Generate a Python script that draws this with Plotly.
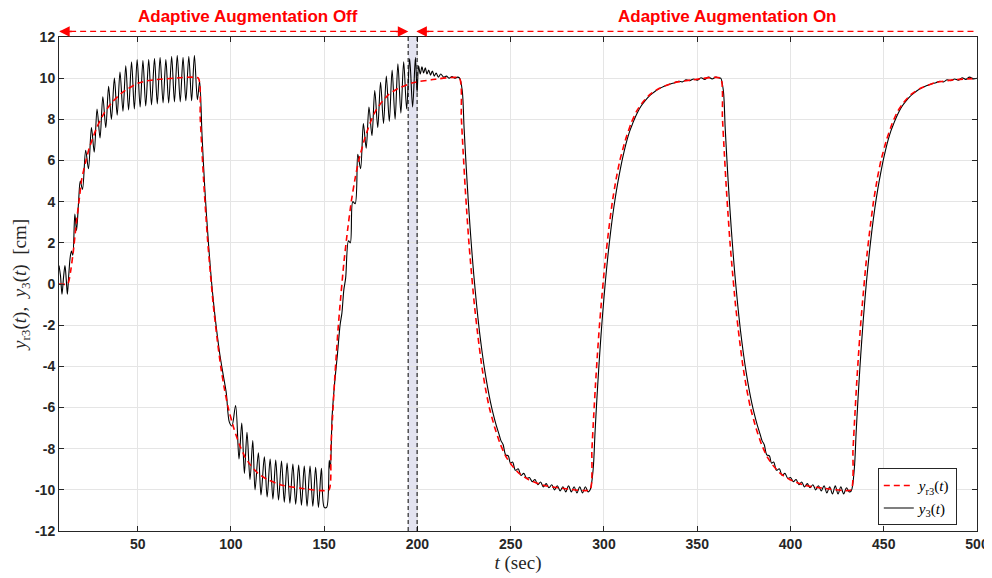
import plotly.graph_objects as go

# ---------------- data ----------------
# reference signal y_r3(t), per segment
ref_t_seg0 = [7.8, 12.5, 14, 15.5, 17, 18.5, 20, 22, 24, 26, 28, 32, 36, 41, 45, 50, 55, 60, 70, 82.5]
ref_y_seg0 = [0, 0, 0.6, 1.6, 2.9, 4.0, 5.1, 5.9, 6.6, 7.1, 7.6, 8.3, 8.8, 9.25, 9.5, 9.75, 9.87, 9.93, 10, 10]

ref_t_seg1 = [83.5, 84.5, 85.5, 86.5, 87.5, 88.5, 90.5, 92.5, 94.5, 96.5, 98.5, 101.5, 104.5, 107.5, 110.5, 114.5, 119.5, 127.5, 137.5, 152.5]
ref_y_seg1 = [8.1, 6.4, 4.8, 3.4, 2.1, 1.0, -1.0, -2.6, -4.0, -5.1, -6.0, -7.0, -7.8, -8.4, -8.8, -9.2, -9.5, -9.78, -9.92, -10]

ref_t_seg2 = [153.5, 154.5, 155.5, 156.5, 157.5, 158.5, 160.5, 162.5, 164.5, 166.5, 168.5, 171.5, 174.5, 177.5, 180.5, 184.5, 189.5, 197.5, 207.5, 222.5]
ref_y_seg2 = [-8.1, -6.4, -4.8, -3.4, -2.1, -1.0, 1.0, 2.6, 4.0, 5.1, 6.0, 7.0, 7.8, 8.4, 8.8, 9.2, 9.5, 9.78, 9.92, 10]

ref_t_seg3 = [223.5, 224.5, 225.5, 226.5, 227.5, 228.5, 230.5, 232.5, 234.5, 236.5, 238.5, 241.5, 244.5, 247.5, 250.5, 254.5, 259.5, 267.5, 277.5, 292.5]
ref_y_seg3 = [8.1, 6.4, 4.8, 3.4, 2.1, 1.0, -1.0, -2.6, -4.0, -5.1, -6.0, -7.0, -7.8, -8.4, -8.8, -9.2, -9.5, -9.78, -9.92, -10]

ref_t_seg4 = [293.5, 294.5, 295.5, 296.5, 297.5, 298.5, 300.5, 302.5, 304.5, 306.5, 308.5, 311.5, 314.5, 317.5, 320.5, 324.5, 329.5, 337.5, 347.5, 362.5]
ref_y_seg4 = [-8.1, -6.4, -4.8, -3.4, -2.1, -1.0, 1.0, 2.6, 4.0, 5.1, 6.0, 7.0, 7.8, 8.4, 8.8, 9.2, 9.5, 9.78, 9.92, 10]

ref_t_seg5 = [363.5, 364.5, 365.5, 366.5, 367.5, 368.5, 370.5, 372.5, 374.5, 376.5, 378.5, 381.5, 384.5, 387.5, 390.5, 394.5, 399.5, 407.5, 417.5, 432.5]
ref_y_seg5 = [8.1, 6.4, 4.8, 3.4, 2.1, 1.0, -1.0, -2.6, -4.0, -5.1, -6.0, -7.0, -7.8, -8.4, -8.8, -9.2, -9.5, -9.78, -9.92, -10]

ref_t_seg6 = [433.5, 434.5, 435.5, 436.5, 437.5, 438.5, 440.5, 442.5, 444.5, 446.5, 448.5, 451.5, 454.5, 457.5, 460.5, 464.5, 469.5, 477.5, 487.5, 500]
ref_y_seg6 = [-8.1, -6.4, -4.8, -3.4, -2.1, -1.0, 1.0, 2.6, 4.0, 5.1, 6.0, 7.0, 7.8, 8.4, 8.8, 9.2, 9.5, 9.78, 9.92, 9.99]

# measured output y_3(t), per segment (peaks / troughs / samples)
out_t_seg0 = [7.8, 8.6, 9.4, 10.2, 11.0, 11.7, 12.3, 13.0, 13.8, 14.5, 15.2, 16.3, 17.2, 18.3, 19.2, 20.4,
              22.1, 23.6, 25.2, 26.7, 28.2, 29.8, 31.3, 32.9, 34.4, 35.9, 37.5, 39.0, 40.5, 42.1, 43.6, 45.1,
              46.7, 48.2, 49.7, 51.3, 52.8, 54.3, 55.9, 57.4, 59.0, 60.5, 62.0, 63.6, 65.1, 66.6, 68.2, 69.7,
              71.2, 72.8, 74.3, 75.8, 77.4, 78.9, 80.4, 82.0, 83.2]
out_y_seg0 = [0.9, 0.4, -0.5, 0.3, 0.9, 0.2, -0.5, 0.4, 1.3, 1.6, 1.4, 3.4, 2.6, 4.0, 5.0, 4.6,
              6.5, 5.6, 7.6, 6.4, 8.5, 7.1, 9.1, 7.6, 9.6, 8.0, 10.0, 8.2, 10.3, 8.4, 10.6, 8.45,
              10.8, 8.5, 10.9, 8.6, 10.85, 8.65, 10.9, 8.7, 10.95, 8.75, 11.0, 8.8, 10.9, 8.8, 11.05, 8.85,
              11.1, 8.85, 11.0, 8.9, 11.05, 8.9, 11.1, 8.95, 9.85]

out_t_seg1 = [84.5, 86.0, 88.0, 90.0, 92.0, 94.0, 96.0, 97.5, 99.1, 100.5, 102.5, 104.3, 105.8, 107.2, 108.6,
              110.2, 111.7, 112.9, 114.7, 116.1, 117.9, 119.4, 121.0, 122.5, 124.0, 125.5, 127.1, 128.6,
              130.1, 131.6, 133.2, 134.7, 136.3, 137.8, 139.3, 140.8, 142.4, 143.9, 145.4, 146.9, 148.5,
              150.0, 151.3, 152.7]
out_y_seg1 = [7.2, 4.6, 1.9, -0.3, -2.0, -3.4, -4.5, -5.3, -6.7, -6.9, -5.9, -8.5, -6.75, -9.2, -7.2,
              -9.5, -7.6, -10.0, -8.2, -10.25, -8.4, -10.35, -8.5, -10.45, -8.55, -10.5, -8.6, -10.6,
              -8.7, -10.65, -8.75, -10.7, -8.8, -10.75, -8.85, -10.8, -8.85, -10.8, -8.9, -10.85, -8.95,
              -10.85, -10.85, -8.56]

out_t_seg2 = [153.3, 154.2, 155.5, 157.0, 158.5, 159.5, 160.5, 161.5, 163.0, 164.0, 165.3, 166.6, 168.0,
              169.5, 171.0, 172.5, 174.0, 175.6, 177.1, 178.7, 180.2, 181.8, 183.3, 184.9, 186.4, 188.0,
              189.5, 191.1, 192.6, 194.2, 195.8, 197.4, 198.9, 199.8, 200.6, 201.5, 202.4, 203.3, 204.2,
              205.1, 206.0, 207.0, 208.0, 209.0, 210.0, 211.2, 212.5, 214.0, 215.5, 217.0, 218.5, 220.0,
              221.5, 222.6]
out_y_seg2 = [-9.0, -6.5, -4.9, -3.5, -2.0, -1.4, -0.3, 0.3, 2.1, 2.0, 4.0, 3.9, 6.3,
              5.6, 7.8, 6.6, 8.6, 7.2, 9.4, 7.6, 9.8, 7.8, 10.1, 7.9, 10.4, 8.0,
              10.7, 8.3, 10.8, 8.5, 10.95, 8.6, 11.0, 9.3, 10.6, 10.2, 10.55, 10.25, 10.5,
              10.2, 10.4, 10.15, 10.35, 10.1, 10.25, 10.05, 10.2, 10.05, 10.1, 10.0, 10.08, 10.0,
              10.05, 10.0]

out_t_seg3 = [224.0, 225.0, 226.2, 227.2, 228.2, 229.2, 230.2, 231.7, 233.2, 234.7, 236.2, 237.7, 239.2,
              240.7, 242.2, 243.7, 244.8, 245.9, 247.3, 248.7, 249.8, 251.0, 252.5, 254.0, 255.5, 257.0,
              258.6, 260.0, 261.5, 263.0, 264.5, 266.0, 267.5, 269.0, 270.5, 272.0, 273.5, 275.0, 276.5,
              278.0, 279.5, 281.0, 282.5, 284.0, 285.5, 287.0, 288.5, 290.0, 291.5, 292.6]
out_y_seg3 = [9.4, 7.56, 5.58, 4.09, 2.75, 1.54, 0.44, -1.01, -2.27, -3.34, -4.27, -5.07, -5.76,
              -6.35, -6.86, -7.29, -7.62, -7.8, -8.3, -8.35, -8.7, -8.65, -9.05, -8.98, -9.3, -9.2,
              -9.45, -9.4, -9.6, -9.5, -9.75, -9.62, -9.86, -9.7, -9.9, -9.75, -10.0, -9.8, -10.05,
              -9.85, -10.1, -9.8, -10.1, -9.85, -10.15, -9.85, -10.15, -9.85, -10.1, -10.0]

out_t_seg4 = [294.2, 295.2, 296.2, 297.2, 298.2, 299.2, 300.7, 302.2, 303.7, 305.2, 306.7, 308.2, 309.6,
              311.0, 312.4, 313.8, 315.3, 316.7, 318.1, 320.0, 322.0, 324.0, 326.0, 328.0, 330.0, 332.0,
              334.0, 336.0, 338.0, 340.0, 342.0, 344.0, 346.0, 348.0, 350.0, 352.0, 354.0, 356.0, 358.0,
              360.0, 362.0, 362.6]
out_y_seg4 = [-9.0, -7.21, -5.58, -4.09, -2.75, -1.54, 0.07, 1.45, 2.64, 3.67, 4.55, 5.31, 5.96,
              6.52, 7.01, 7.43, 7.78, 8.09, 8.36, 8.66, 8.9, 9.1, 9.26, 9.4, 9.51, 9.6,
              9.67, 9.73, 9.78, 9.85, 9.82, 9.92, 9.88, 9.96, 9.9, 10.02, 9.94, 10.05, 9.96,
              10.05, 10.0, 10.0]

out_t_seg5 = [364.0, 365.0, 366.2, 367.2, 368.2, 369.2, 370.2, 371.7, 373.2, 374.7, 376.2, 377.7, 379.2,
              380.7, 382.2, 383.7, 384.8, 385.9, 387.3, 388.7, 389.8, 391.0, 392.5, 394.0, 395.5, 397.0,
              398.6, 400.0, 401.5, 403.0, 404.5, 406.0, 407.5, 409.0, 410.5, 412.0, 413.5, 415.0, 416.5,
              418.0, 419.5, 421.0, 422.5, 424.0, 425.5, 427.0, 428.5, 430.0, 431.5, 432.6]
out_y_seg5 = [9.4, 7.56, 5.58, 4.09, 2.75, 1.54, 0.44, -1.01, -2.27, -3.34, -4.27, -5.07, -5.76,
              -6.35, -6.86, -7.29, -7.62, -7.8, -8.3, -8.35, -8.7, -8.65, -9.05, -8.98, -9.3, -9.2,
              -9.45, -9.4, -9.6, -9.5, -9.75, -9.62, -9.86, -9.7, -9.9, -9.75, -10.0, -9.8, -10.05,
              -9.8, -10.15, -9.85, -10.2, -9.8, -10.2, -9.85, -10.2, -9.9, -10.1, -10.05]

out_t_seg6 = [434.2, 435.2, 436.2, 437.2, 438.2, 439.2, 440.7, 442.2, 443.7, 445.2, 446.7, 448.2, 449.6,
              451.0, 452.4, 453.8, 455.3, 456.7, 458.1, 460.0, 462.0, 464.0, 466.0, 468.0, 470.0, 472.0,
              474.0, 476.0, 478.0, 480.0, 482.0, 484.0, 486.0, 488.0, 490.0, 492.0, 494.0, 496.0, 498.0,
              500.0]
out_y_seg6 = [-9.0, -7.21, -5.58, -4.09, -2.75, -1.54, 0.07, 1.45, 2.64, 3.67, 4.55, 5.31, 5.96,
              6.52, 7.01, 7.43, 7.78, 8.09, 8.36, 8.66, 8.9, 9.1, 9.26, 9.4, 9.51, 9.6,
              9.67, 9.73, 9.78, 9.85, 9.82, 9.92, 9.88, 9.96, 9.9, 10.02, 9.94, 10.05, 9.96,
              10.0]

x_ticks = [50, 100, 150, 200, 250, 300, 350, 400, 450, 500]
y_ticks = [-12, -10, -8, -6, -4, -2, 0, 2, 4, 6, 8, 10, 12]
phase_labels = ["Adaptive Augmentation Off", "Adaptive Augmentation On"]
switch_band = [195.0, 199.8]

# ---------------- assemble ----------------
ref_t = ref_t_seg0 + ref_t_seg1 + ref_t_seg2 + ref_t_seg3 + ref_t_seg4 + ref_t_seg5 + ref_t_seg6
ref_y = ref_y_seg0 + ref_y_seg1 + ref_y_seg2 + ref_y_seg3 + ref_y_seg4 + ref_y_seg5 + ref_y_seg6
out_t = out_t_seg0 + out_t_seg1 + out_t_seg2 + out_t_seg3 + out_t_seg4 + out_t_seg5 + out_t_seg6
out_y = out_y_seg0 + out_y_seg1 + out_y_seg2 + out_y_seg3 + out_y_seg4 + out_y_seg5 + out_y_seg6

fig = go.Figure()
fig.add_trace(go.Scatter(
    x=out_t, y=out_y, mode="lines", name="<i>y</i><sub>3</sub>(<i>t</i>)",
    line=dict(color="#000000", width=1.1, shape="spline", smoothing=0.9), legendrank=2))
fig.add_trace(go.Scatter(
    x=ref_t, y=ref_y, mode="lines", name="<i>y</i><sub>r3</sub>(<i>t</i>)",
    line=dict(color="#ff0000", width=1.6, dash="6px,4px", shape="spline", smoothing=0.5), legendrank=1))

# shaded switching band with dashed edges
fig.add_shape(type="rect", xref="x", yref="y", x0=switch_band[0], x1=switch_band[1], y0=-12, y1=12,
              fillcolor="#e3e3f0", line=dict(width=0), layer="below")
for xb in switch_band:
    fig.add_shape(type="line", xref="x", yref="y", x0=xb, x1=xb, y0=-12, y1=12,
                  line=dict(color="#000000", width=1, dash="4px,3px"))

# top arrows
arrow_y = 1.0113
for (a, b) in [(8.4, 194.4), (200.0, 499.7)]:
    fig.add_shape(type="line", xref="x", yref="paper", x0=a, x1=b, y0=arrow_y, y1=arrow_y,
                  line=dict(color="#ff0000", width=1.3, dash="6px,4px"))
for (tip, off) in [(7.9, 14), (195.1, -14), (199.4, 14), (500.3, -14)]:
    fig.add_annotation(x=tip, y=arrow_y, xref="x", yref="paper", ax=off, ay=0, text="",
                       showarrow=True, arrowhead=2, arrowsize=1.4, arrowwidth=1.5, arrowcolor="#ff0000")

for lbl, xc in zip(phase_labels, [108.9, 366.0]):
    fig.add_annotation(x=xc, y=1.0415, xref="x", yref="paper", text=lbl, showarrow=False,
                       xanchor="center", yanchor="middle",
                       font=dict(family="Liberation Sans", size=17, color="#ff0000", weight="bold"))

axis_common = dict(showline=True, linecolor="#262626", linewidth=1, mirror="ticks",
                   ticks="inside", ticklen=5, tickcolor="#262626", showgrid=True,
                   gridcolor="#e5e5e5", gridwidth=1, zeroline=False, automargin=False,
                   tickfont=dict(family="Liberation Sans", size=14, color="#262626", weight="bold"))

fig.update_xaxes(range=[7.8, 500], tickvals=x_ticks, ticktext=[str(v) for v in x_ticks],
                 title=dict(text="<i>t</i> (sec)", standoff=3,
                            font=dict(family="Liberation Serif", size=19, color="#262626")),
                 **axis_common)
fig.update_yaxes(range=[-12, 12], tickvals=y_ticks, ticktext=[str(v) for v in y_ticks],
                 title=dict(text="<i>y</i><sub>r3</sub>(<i>t</i>),&nbsp; <i>y</i><sub>3</sub>(<i>t</i>)&nbsp; [cm]",
                            standoff=3, font=dict(family="Liberation Serif", size=19, color="#262626")),
                 **axis_common)

# page body has an 8px default margin, so the figure is 984x570 inside the 992x578 window
fig.update_layout(
    width=984, height=570,
    margin=dict(l=51, r=15, t=29, b=47),
    paper_bgcolor="#ffffff", plot_bgcolor="#ffffff",
    showlegend=True,
    legend=dict(x=0.978, y=0.127, xanchor="right", yanchor="top", bgcolor="#ffffff",
                bordercolor="#262626", borderwidth=1, tracegroupgap=0,
                font=dict(family="Liberation Serif", size=15, color="#000000"),
                itemwidth=30),
)

fig.write_html("out.html")
